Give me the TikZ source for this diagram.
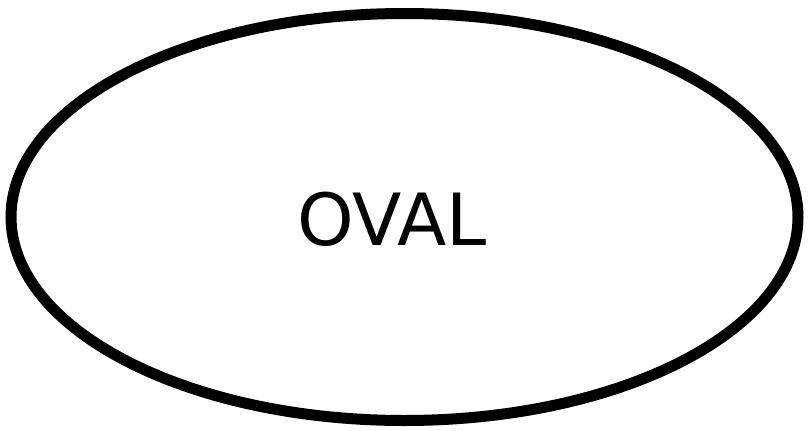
\documentclass[tikz,border=0pt]{standalone}
\usepackage{fontspec}
\setmainfont{DejaVu Sans}
\usetikzlibrary{shapes.geometric}
\begin{document}
\begin{tikzpicture}[x=1pt,y=-1pt,
  ovalshape/.style={draw=black,line width=11pt,ellipse,minimum width=787pt,minimum height=407pt,inner sep=0pt},
  ovaltext/.style={font=\fontsize{72}{80}\selectfont,inner sep=0pt,anchor=center}]
\useasboundingbox (0,0) rectangle (809,431);
\node[ovalshape] (oval) at (404.5,217) {};
\node[ovaltext] (label) at (392,219) {OVAL};
\end{tikzpicture}
\end{document}
